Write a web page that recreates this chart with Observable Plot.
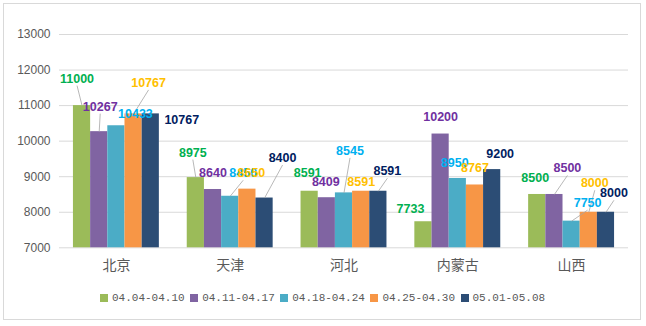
<!DOCTYPE html>
<html>
<head>
<meta charset="utf-8">
<script src="https://cdn.jsdelivr.net/npm/d3@7"></script>
<script src="https://cdn.jsdelivr.net/npm/@observablehq/plot@0.6"></script>
<style>
  html, body { margin: 0; padding: 0; background: #fff; }
  #wrap { position: relative; width: 646px; height: 326px; overflow: hidden; }
  #frame { position: absolute; left: 3px; top: 3px; width: 638px; height: 317px; border: 1px solid #d9d9d9; box-sizing: border-box; }
  #chart { position: absolute; left: 0; top: 0; }
  #legend { position: absolute; left: 100px; top: 291px; display: flex; gap: 5.5px; font-family: "Liberation Mono", "DejaVu Sans Mono", monospace; font-size: 11px; color: #595959; line-height: 14px; }
  #legend .item { display: flex; align-items: center; gap: 4px; }
  #legend .sw { width: 8px; height: 8px; display: inline-block; }
</style>
</head>
<body>
<div id="wrap">
  <div id="frame"></div>
  <div id="chart"></div>
  <div id="legend"></div>
</div>
<script>
// ---- data ----
const categories = ["北京", "天津", "河北", "内蒙古", "山西"];
const seriesNames = ["04.04-04.10", "04.11-04.17", "04.18-04.24", "04.25-04.30", "05.01-05.08"];
const s1 = [11000, 8975, 8591, 7733, 8500];
const s2 = [10267, 8640, 8409, 10200, 8500];
const s3 = [10433, 8450, 8545, 8950, 7750];
const s4 = [10767, 8650, 8591, 8767, 8000];
const s5 = [10767, 8400, 8591, 9200, 8000];
const yTicks = [7000, 8000, 9000, 10000, 11000, 12000, 13000];

// ---- style ----
const barColors = ["#9bbb59", "#8064a2", "#4bacc6", "#f79646", "#2c4d75"];
const labelColors = ["#00b050", "#7030a0", "#00b0f0", "#ffc000", "#002060"];
// label offsets (px) from each bar's top centre, per category then series; leader = draw a leader line
const labelOffsets = [
  [[-5,-27,1],[1,-25,1],[19,-12,0],[15,-31,1],[31,6,0]],
  [[-3,-25,1],[0,-16,0],[13,-23,1],[4,-16,0],[18,-40,1]],
  [[-2,-18,0],[-1,-16,0],[6,-42,1],[0,-9,0],[9,-20,1]],
  [[-13,-13,0],[0,-17,0],[-3,-15,0],[0,-17,0],[8,-16,0]],
  [[-2,-16,0],[13,-26,1],[16,-18,1],[6,-29,1],[8,-19,1]]
];

const W = 646, H = 280, mL = 59, mR = 18, mT = 34, mB = 32.7;
const kx = (W - mL - mR) / categories.length; // px per category unit
const ky = (H - mT - mB) / (yTicks[yTicks.length - 1] - yTicks[0]); // px per value unit
const barW = 0.151; // fraction of category band

const allSeries = [s1, s2, s3, s4, s5];
const rows = [];
categories.forEach((c, ci) => {
  allSeries.forEach((s, si) => {
    const xc = ci + (si - 2) * barW;
    const [ox, oy, lead] = labelOffsets[ci][si];
    const lx = xc + ox / kx, ly = s[ci] - oy / ky;
    rows.push({
      cat: c, ci, si, series: seriesNames[si], value: s[ci],
      x1: xc - barW / 2, x2: xc + barW / 2, xc,
      lx, ly, lead,
      leadY: s[ci] - (oy + 7) / ky
    });
  });
});

const marks = [
  Plot.gridY(yTicks, {stroke: "#d9d9d9", strokeOpacity: 1, strokeWidth: 1}),
  Plot.axisY(yTicks, {tickSize: 0, tickPadding: 9, fontSize: 12, fill: "#595959", tickFormat: d => String(d), fontFamily: "Liberation Sans, Arial, sans-serif"}),
  Plot.axisX(d3.range(categories.length), {tickSize: 0, tickPadding: 12, fontSize: 14, fill: "#595959", tickFormat: i => categories[i], fontFamily: "Noto Sans CJK SC, sans-serif"}),
  Plot.rectY(rows, {x1: "x1", x2: "x2", y1: yTicks[0], y2: "value", fill: d => barColors[d.si]}),
  Plot.link(rows.filter(d => d.lead), {x1: "xc", y1: "value", x2: "lx", y2: "leadY", stroke: "#a6a6a6", strokeWidth: 0.8}),
  Plot.text(rows, {x: "lx", y: "ly", text: d => String(d.value), fill: d => labelColors[d.si], fontSize: 12.5, fontWeight: "bold", fontFamily: "Liberation Sans, Arial, sans-serif"})
];

const chart = Plot.plot({
  width: W, height: H,
  marginLeft: mL, marginRight: mR, marginTop: mT, marginBottom: mB,
  x: {type: "linear", domain: [-0.5, categories.length - 0.5], axis: null},
  y: {domain: [yTicks[0], yTicks[yTicks.length - 1]], axis: null},
  style: {background: "transparent", overflow: "visible"},
  marks
});
document.getElementById("chart").appendChild(chart);

const legend = document.getElementById("legend");
seriesNames.forEach((n, i) => {
  const it = document.createElement("div");
  it.className = "item";
  const sw = document.createElement("span");
  sw.className = "sw";
  sw.style.background = barColors[i];
  const t = document.createElement("span");
  t.textContent = n;
  it.appendChild(sw); it.appendChild(t);
  legend.appendChild(it);
});
</script>
</body>
</html>
